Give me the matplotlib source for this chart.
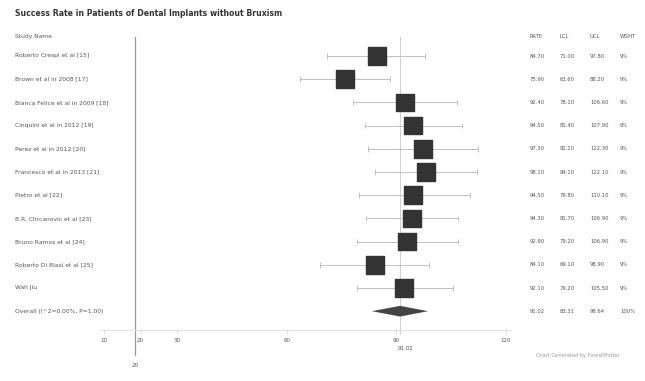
import numpy as np
import matplotlib.pyplot as plt
from matplotlib.transforms import blended_transform_factory
from matplotlib.lines import Line2D

title = "Success Rate in Patients of Dental Implants without Bruxism"
studies = ["Roberto Crespi et al [15]",
           "Brown et al in 2008 [17]",
           "Bianca Felice et al in 2009 [18]",
           "Cinquini et al in 2012 [19]",
           "Perez et al in 2012 [20]",
           "Francesco et al in 2013 [21]",
           "Pietro et al [22]",
           "B.R. Chrcanovic et al [23]",
           "Bruno Ramos et al [24]",
           "Roberto Di Blasi et al [25]",
           "Wah Jiu"]
rates = [84.7, 75.9, 92.4, 94.5, 97.3, 98.1, 94.5, 94.3, 92.9, 84.1, 92.1]
lcl = [71.0, 63.6, 78.1, 81.4, 82.2, 84.1, 79.8, 81.7, 79.2, 69.1, 79.2]
ucl = [97.8, 88.2, 106.6, 107.9, 112.3, 112.1, 110.1, 106.9, 106.9, 98.9, 105.5]
weights = [9, 9, 9, 9, 9, 9, 9, 9, 9, 9, 9]

overall_label = "Overall (I^2=0.00%, P=1.00)"
overall_rate = 91.02
overall_lcl = 83.31
overall_ucl = 98.64

xticks = [10, 20, 30, 60, 90, 120]
null_value = 18.6
null_label = "20"
col_heads = ["RATE", "LCL", "UCL", "WGHT"]

W, H = 645, 381
fig = plt.figure(figsize=(W / 100, H / 100), dpi=100)

# axes placed so that rows / ticks fall where the reference has them
ax_left, ax_right = 100, 510
ax_top, ax_bot = 30, 330
ax = fig.add_axes([ax_left / W, 1 - ax_bot / H, (ax_right - ax_left) / W, (ax_bot - ax_top) / H])
px_per_unit = 3.655
ax.set_xlim(10 + (ax_left - 104) / px_per_unit, 10 + (ax_right - 104) / px_per_unit)
row0, row_h = 56, 23.2
ax.set_ylim((ax_bot - row0) / row_h, (ax_top - row0) / row_h)

for s in ["top", "left", "right"]:
    ax.spines[s].set_visible(False)
ax.spines["bottom"].set_color("#e2e2e2")
ax.set_yticks([])
ax.set_xticks(xticks)
ax.set_xticklabels([str(t) for t in xticks], fontsize=4, color="#555555")
ax.tick_params(axis="x", length=3, color="#dddddd", pad=3)

n = len(studies)
ys = np.arange(n)

# null line, runs out below the axis
ax.add_line(Line2D([null_value, null_value], [-0.82, 12.9], color="#9a9a9a", lw=0.9, clip_on=False))
ax.text(null_value, 13.35, null_label, fontsize=4, color="#555555", ha="center", va="center")
# overall reference line
ax.add_line(Line2D([overall_rate, overall_rate], [-0.82, 11.95], color="#d0d0d0", lw=0.8, clip_on=False))
ax.text(overall_rate + 1.5, 12.6, "%.2f" % overall_rate, fontsize=4, color="#555555", ha="center", va="center")

# confidence intervals
ax.hlines(ys, lcl, ucl, color="#c0c0c0", lw=0.7)
ax.vlines(lcl, ys - 0.12, ys + 0.12, color="#c0c0c0", lw=0.7)
ax.vlines(ucl, ys - 0.12, ys + 0.12, color="#c0c0c0", lw=0.7)
ax.scatter(rates, ys, marker="s", s=[w * 18 for w in weights], color="#333333", zorder=3)

yo = n
ax.fill([overall_lcl, overall_rate, overall_ucl, overall_rate],
        [yo, yo - 0.23, yo, yo + 0.23], color="#444444", lw=0, zorder=3)

# text columns
tr = blended_transform_factory(fig.transFigure, ax.transData)
fig.text(15 / W, 1 - 14 / H, title, fontsize=5.6, fontweight="bold", color="#333333", va="center")
ax.text(15 / W, -0.82, "Study Name", transform=tr, fontsize=4.3, color="#555555", va="center")
for i, name in enumerate(studies):
    ax.text(15 / W, i, name, transform=tr, fontsize=4.3, color="#555555", va="center")
ax.text(15 / W, yo, overall_label, transform=tr, fontsize=4.3, color="#555555", va="center")

col_x = [530, 560, 590, 620]
for cx, head in zip(col_x, col_heads):
    ax.text(cx / W, -0.82, head, transform=tr, fontsize=3.8, color="#555555", va="center")
for i in range(n):
    vals = ["%.2f" % rates[i], "%.2f" % lcl[i], "%.2f" % ucl[i], "%d%%" % weights[i]]
    for cx, v in zip(col_x, vals):
        ax.text(cx / W, i, v, transform=tr, fontsize=3.8, color="#555555", va="center")
vals = ["%.2f" % overall_rate, "%.2f" % overall_lcl, "%.2f" % overall_ucl, "100%"]
for cx, v in zip(col_x, vals):
    ax.text(cx / W, yo, v, transform=tr, fontsize=3.8, color="#555555", va="center")

fig.text(620 / W, 1 - 355 / H, "Chart Generated by ForestPlotter", fontsize=3.6,
         color="#9a9a9a", ha="right", va="center")

fig.savefig("out.png", dpi=100)
